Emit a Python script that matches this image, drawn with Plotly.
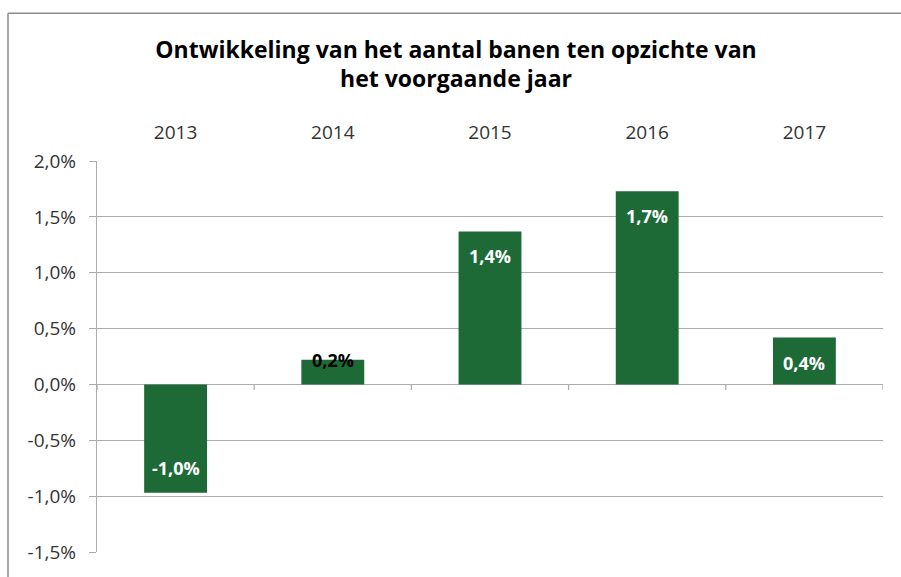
import plotly.graph_objects as go

years = ["2013", "2014", "2015", "2016", "2017"]
values = [-0.97, 0.22, 1.37, 1.73, 0.42]
y_ticks = [-1.5, -1.0, -0.5, 0.0, 0.5, 1.0, 1.5, 2.0]
title_lines = ["Ontwikkeling van het aantal banen ten opzichte van", "het voorgaande jaar"]


def pct(v):
    return f"{v:.1f}".replace(".", ",") + "%"


BAR = "#1D6A37"
GRID = "#ADADAD"
TXT = "#333333"
FONT = "Open Sans"

L, R, T, B = 97, 18, 161, 19
W, H = 901, 577
PW, PH = W - L - R, H - T - B

fig = go.Figure()
fig.add_trace(go.Bar(
    x=years, y=values, width=0.4,
    marker=dict(color=BAR, line=dict(width=0)),
    hoverinfo="skip",
))

# data labels
for i, v in enumerate(values):
    if abs(v) < 0.3:
        fig.add_annotation(x=i, y=v, text=f"<b>{pct(v)}</b>", showarrow=False,
                           yanchor="middle", font=dict(family=FONT, size=18, color="black"))
    else:
        fig.add_annotation(x=i, y=v, text=f"<b>{pct(v)}</b>", showarrow=False,
                           yanchor="middle", yshift=(-25 if v > 0 else 25),
                           font=dict(family=FONT, size=18, color="white"))

# category boundary ticks along zero line
for i in range(len(years) + 1):
    fig.add_shape(type="line", xref="x", yref="y", x0=i - 0.5, x1=i - 0.5, y0=0, y1=-0.05,
                  line=dict(color=GRID, width=1.3), layer="below")

# outer chart border: top and left edges (the rest lies outside the picture)
bx0 = (8 - L) / PW
by1 = 1 + (T - 11) / PH
fig.add_shape(type="line", xref="paper", yref="paper", x0=bx0, x1=1.05, y0=by1, y1=by1,
              line=dict(color="#8C8C8C", width=1.5))
fig.add_shape(type="line", xref="paper", yref="paper", x0=bx0, x1=bx0, y0=-0.1, y1=by1,
              line=dict(color="#8C8C8C", width=1.5))

fig.update_layout(
    width=W, height=H,
    margin=dict(l=L, r=R, t=T, b=B),
    paper_bgcolor="white", plot_bgcolor="white",
    showlegend=False,
    title=dict(text="<b>" + "<br>".join(title_lines) + "</b>",
               x=456 / W, xanchor="center", y=1 - 57.5 / H, yanchor="middle",
               font=dict(family=FONT, size=23, color="black")),
    xaxis=dict(side="top", type="category", range=[-0.5, 4.5],
               showgrid=False, showline=False, ticks="",
               ticklabelstandoff=17,
               tickfont=dict(family=FONT, size=19, color=TXT), zeroline=False),
    yaxis=dict(range=[-1.5, 2.0], tickvals=y_ticks, ticktext=[pct(v) for v in y_ticks],
               showgrid=True, gridcolor=GRID, gridwidth=1.3,
               showline=True, linecolor=GRID, linewidth=1.3,
               ticks="outside", ticklen=7, tickcolor=GRID, tickwidth=1.3,
               ticklabelstandoff=9,
               zeroline=True, zerolinecolor=GRID, zerolinewidth=1.3,
               tickfont=dict(family=FONT, size=19, color=TXT)),
)

fig.write_html(
    "out.html",
    config={"displayModeBar": False},
    post_script="document.body.style.margin='0';document.body.style.overflow='hidden';",
)
